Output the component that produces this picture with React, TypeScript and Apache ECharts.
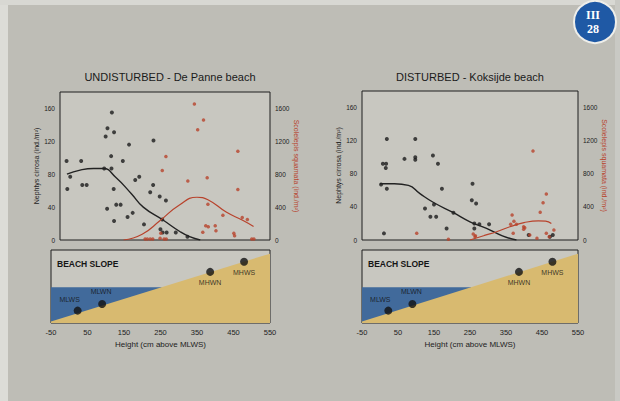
import React, { useEffect, useRef } from "react";
import * as echarts from "echarts";

const FONT = '"Liberation Sans", Arial, Helvetica, sans-serif';

// ---- tick labels ----
const heightTicks = [-50, 50, 150, 250, 350, 450, 550];

// ---- UNDISTURBED - De Panne beach ----
// Nephtys cirrosa (ind./m²): [height cm, density]
const panneNephtys: [number, number][] = [
  [117, 155], [105, 136], [123, 131], [100, 126], [164, 116], [231, 121],
  [-7, 96], [33, 96], [147, 96], [115, 102], [3, 77], [96, 87], [116, 87],
  [36, 67], [48, 67], [-5, 62], [192, 77], [181, 73], [122, 62], [230, 67],
  [222, 58], [248, 53], [129, 43], [141, 43], [104, 38], [174, 33], [160, 28],
  [123, 23], [205, 19], [255, 25], [250, 13], [265, 48], [256, 9], [267, 9],
  [292, 9], [324, 4],
];
const panneNephtysFit: [number, number][] = [
  [-6, 80], [30, 85], [67, 87], [94, 87], [126, 77], [171, 56], [203, 40],
  [258, 24], [304, 10], [330, 4], [359, 0],
];
// Scolelepis squamata (ind./m²)
const panneScolelepis: [number, number][] = [
  [343, 1653], [368, 1460], [352, 1342], [462, 1080], [265, 1016], [255, 846],
  [378, 758], [325, 717], [462, 613], [380, 435], [421, 302], [474, 274],
  [488, 250], [374, 173], [381, 161], [400, 173], [402, 112], [366, 93],
  [451, 81], [453, 52], [251, 81], [208, 12], [214, 12], [222, 12], [229, 12],
  [249, 20], [260, 12], [266, 12], [500, 12], [506, 12],
];
const panneScolelepisFit: [number, number][] = [
  [149, 0], [200, 70], [250, 240], [300, 420], [350, 520], [380, 490],
  [430, 340], [475, 240], [505, 165],
];

// ---- DISTURBED - Koksijde beach ----
const koksijdeNephtys: [number, number][] = [
  [19, 122], [8, 92], [17, 92], [16, 87], [3, 67], [19, 62], [11, 8],
  [68, 98], [98, 122], [98, 100], [98, 97], [147, 102], [161, 92], [172, 62],
  [125, 38], [140, 28], [156, 28], [150, 43], [185, 14], [257, 68], [255, 48],
  [267, 44], [262, 20], [262, 14], [276, 19], [303, 19], [204, 33], [413, 6],
  [472, 4], [480, 6],
];
const koksijdeNephtysFit: [number, number][] = [
  [0, 68], [40, 68], [79, 66], [111, 56], [150, 45], [204, 33], [250, 22],
  [296, 14], [340, 5], [379, 0],
];
const koksijdeScolelepis: [number, number][] = [
  [425, 1076], [462, 556], [453, 451], [445, 335], [367, 302], [372, 226],
  [363, 190], [379, 190], [399, 161], [399, 129], [402, 149], [370, 81],
  [416, 60], [436, 20], [462, 81], [470, 40], [483, 121], [259, 73],
  [264, 40], [265, 52], [102, 81], [190, 8],
];
const koksijdeScolelepisFit: [number, number][] = [
  [250, 0], [290, 55], [324, 100], [361, 160], [400, 210], [440, 232],
  [460, 228], [476, 200],
];

// ---- beach slope schematic (relative level 0-100) ----
const slopeProfile: [number, number][] = [[-50, 2], [550, 95]];
const waterLevel: [number, number][] = [[-50, 49], [253, 49]];
const tideNames = ["MLWS", "MLWN", "MHWN", "MHWS"];
const tideHeights = [23, 90, 386, 479];
const tideLevels = [17, 26, 70, 84];

const BLACK = "#1c1c1c";
const RED = "#b8432c";

function buildOption() {
  const tickLabel = { fontSize: 6.5, color: "#222", fontFamily: FONT };
  const topGrid = (left: number, top: number, width: number, height: number) => ({
    left, top, width, height, show: true, borderColor: "#1e1e1e", borderWidth: 1,
    backgroundColor: "#c8c7c0",
  });
  const bottomGrid = (left: number, top: number, width: number, height: number) => ({
    left, top, width, height, show: true, borderColor: "#1e1e1e", borderWidth: 1,
    backgroundColor: "#c8c7c0",
  });

  const leftY = (g: number) => ({
    gridIndex: g, type: "value", min: 0, max: 180, interval: 40, position: "left",
    axisLine: { show: false },
    axisTick: { show: false },
    splitLine: { show: false },
    axisLabel: { ...tickLabel, margin: 5, showMaxLabel: false, formatter: (v: number) => String(v) },
    name: "Nephtys cirrosa (ind./m²)", nameLocation: "middle", nameGap: 18,
    nameTextStyle: { fontSize: 7, color: "#222", fontFamily: FONT },
  });
  const rightY = (g: number) => ({
    gridIndex: g, type: "value", min: 0, max: 1800, interval: 400, position: "right",
    axisLine: { show: false },
    axisTick: { show: false },
    splitLine: { show: false },
    axisLabel: { ...tickLabel, margin: 5, showMaxLabel: false, formatter: (v: number) => String(v) },
    name: "Scolelepis squamata (ind./m²)", nameLocation: "middle", nameGap: 22, nameRotate: -90,
    nameTextStyle: { fontSize: 7, color: RED, fontFamily: FONT },
  });
  const topX = (g: number, min: number) => ({
    gridIndex: g, type: "value", min, max: 550, show: false, splitLine: { show: false },
  });
  const bottomX = (g: number) => ({
    gridIndex: g, type: "value", min: -50, max: 550,
    axisLine: { show: false }, axisTick: { show: false }, splitLine: { show: false },
    axisLabel: { customValues: heightTicks, fontSize: 7.5, color: "#222", fontFamily: FONT, margin: 5 },
    name: "Height (cm above MLWS)", nameLocation: "middle", nameGap: 17,
    nameTextStyle: { fontSize: 8, color: "#222", fontFamily: FONT },
  });
  const bottomY = (g: number) => ({
    gridIndex: g, type: "value", min: 0, max: 100, show: false, splitLine: { show: false },
  });

  const scatter = (data: [number, number][], x: number, y: number, color: string, size: number) => ({
    type: "scatter", xAxisIndex: x, yAxisIndex: y, data, symbolSize: size,
    itemStyle: { color }, silent: true, z: 3,
  });
  const fit = (data: [number, number][], x: number, y: number, color: string, width: number) => ({
    type: "line", xAxisIndex: x, yAxisIndex: y, data, smooth: 0.5, showSymbol: false,
    lineStyle: { color, width }, silent: true, z: 4,
  });

  const labelPos: Record<string, any> = {
    MLWS: { position: "top", offset: [-8, -1] },
    MLWN: { position: "top", offset: [-1, -2] },
    MHWN: { position: "bottom", offset: [0, 0] },
    MHWS: { position: "bottom", offset: [0, 0] },
  };
  const tideData = tideNames.map((n, i) => ({
    name: n, value: [tideHeights[i], tideLevels[i]],
    label: { show: true, formatter: n, fontSize: 7, color: "#111", fontFamily: FONT, distance: 3, ...labelPos[n] },
  }));

  const slopeSeries = (x: number, y: number) => [
    {
      type: "line", xAxisIndex: x, yAxisIndex: y, data: waterLevel, showSymbol: false,
      lineStyle: { width: 0 }, areaStyle: { color: "#416a9b", opacity: 1, origin: "start" }, silent: true, z: 1,
    },
    {
      type: "line", xAxisIndex: x, yAxisIndex: y, data: slopeProfile, showSymbol: false,
      lineStyle: { width: 0 }, areaStyle: { color: "#d8ba70", opacity: 1, origin: "start" }, silent: true, z: 2,
    },
    {
      type: "scatter", xAxisIndex: x, yAxisIndex: y, data: tideData, symbolSize: 8,
      itemStyle: { color: "#111" }, silent: true, z: 5,
    },
  ];

  return {
    animation: false,
    backgroundColor: "#bebdb6",
    grid: [
      topGrid(60, 92, 210, 148),
      topGrid(362, 91, 216, 149),
      bottomGrid(51, 250, 219, 73),
      bottomGrid(362, 250, 216, 73),
    ],
    xAxis: [topX(0, -25), topX(1, -50), bottomX(2), bottomX(3)],
    yAxis: [leftY(0), rightY(0), leftY(1), rightY(1), bottomY(2), bottomY(3)],
    series: [
      scatter(panneNephtys, 0, 0, BLACK, 4),
      fit(panneNephtysFit, 0, 0, "#222", 1.4),
      scatter(panneScolelepis, 0, 1, RED, 3.5),
      fit(panneScolelepisFit, 0, 1, RED, 1.2),
      scatter(koksijdeNephtys, 1, 2, BLACK, 4),
      fit(koksijdeNephtysFit, 1, 2, "#222", 1.4),
      scatter(koksijdeScolelepis, 1, 3, RED, 3.5),
      fit(koksijdeScolelepisFit, 1, 3, RED, 1.2),
      ...slopeSeries(2, 4),
      ...slopeSeries(3, 5),
    ],
    graphic: [
      { type: "rect", shape: { x: 0, y: 0, width: 8, height: 401 }, style: { fill: "#dcdcd7" }, z: -1, silent: true },
      { type: "rect", shape: { x: 0, y: 0, width: 620, height: 5 }, style: { fill: "#d8d8d3" }, z: -1, silent: true },
      { type: "rect", shape: { x: 615, y: 0, width: 5, height: 401 }, style: { fill: "#c9c9c4" }, z: -1, silent: true },
      {
        type: "text", x: 170, y: 77, silent: true,
        style: { text: "UNDISTURBED - De Panne beach", fontSize: 11, fontFamily: FONT, fill: "#1a1a1a", align: "center", verticalAlign: "middle" },
      },
      {
        type: "text", x: 470, y: 77, silent: true,
        style: { text: "DISTURBED - Koksijde beach", fontSize: 11, fontFamily: FONT, fill: "#1a1a1a", align: "center", verticalAlign: "middle" },
      },
      {
        type: "text", x: 57, y: 264, silent: true, z: 10,
        style: { text: "BEACH SLOPE", fontSize: 8.5, fontWeight: "bold", fontFamily: FONT, fill: "#151515", verticalAlign: "middle" },
      },
      {
        type: "text", x: 368, y: 264, silent: true, z: 10,
        style: { text: "BEACH SLOPE", fontSize: 8.5, fontWeight: "bold", fontFamily: FONT, fill: "#151515", verticalAlign: "middle" },
      },
      {
        type: "circle", shape: { cx: 595, cy: 22, r: 21 }, silent: true, z: 10,
        style: { fill: "#1f59a5", stroke: "#eeeeea", lineWidth: 2 },
      },
      {
        type: "text", x: 593, y: 15, silent: true, z: 11,
        style: { text: "III", fontSize: 12, fontWeight: "bold", fontFamily: '"Liberation Serif", "DejaVu Serif", serif', fill: "#ffffff", align: "center", verticalAlign: "middle" },
      },
      {
        type: "text", x: 593, y: 29, silent: true, z: 11,
        style: { text: "28", fontSize: 12, fontWeight: "bold", fontFamily: '"Liberation Serif", "DejaVu Serif", serif', fill: "#ffffff", align: "center", verticalAlign: "middle" },
      },
    ],
  };
}

export default function App() {
  const ref = useRef<HTMLDivElement>(null);
  useEffect(() => {
    if (!ref.current) return;
    const chart = echarts.init(ref.current, null, { renderer: "svg" });
    chart.setOption(buildOption() as any);
    return () => chart.dispose();
  }, []);
  return (
    <div
      ref={ref}
      style={{ position: "fixed", left: 0, top: 0, width: 620, height: 401 }}
    />
  );
}
